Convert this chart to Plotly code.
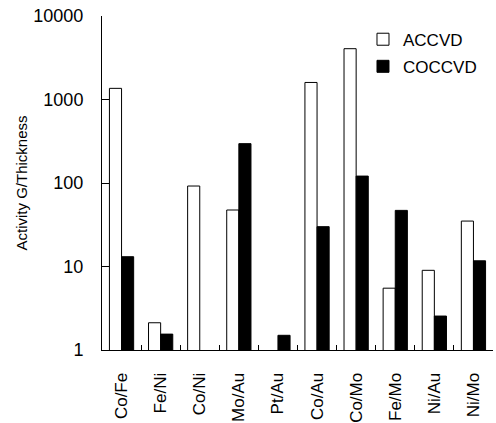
import plotly.graph_objects as go

categories = ["Co/Fe", "Fe/Ni", "Co/Ni", "Mo/Au", "Pt/Au", "Co/Au", "Co/Mo", "Fe/Mo", "Ni/Au", "Ni/Mo"]
accvd = [1360, 2.12, 92, 47.5, None, 1600, 4060, 5.5, 9.0, 35]
coccvd = [13.1, 1.55, None, 296, 1.5, 30, 121, 47, 2.55, 11.7]
ytick_vals = [1, 10, 100, 1000, 10000]
ytick_text = ["1", "10", "100", "1000", "10000"]

FONT = "Liberation Sans, Arial, sans-serif"

fig = go.Figure()
fig.add_trace(go.Bar(x=categories, y=accvd, name="ACCVD",
                     marker=dict(color="white", line=dict(color="black", width=1)),
                     legendgroup="a"))
fig.add_trace(go.Bar(x=categories, y=coccvd, name="COCCVD",
                     marker=dict(color="black", line=dict(color="black", width=1)),
                     legendgroup="b"))

fig.update_layout(
    width=496, height=423,
    margin=dict(l=102, r=3, t=16, b=73),
    paper_bgcolor="white", plot_bgcolor="white",
    font=dict(family=FONT, size=17, color="black"),
    barmode="group", bargap=0.38, bargroupgap=0,
    showlegend=True,
    legend=dict(x=0.6675, y=0.983, xanchor="left", yanchor="top",
                bgcolor="rgba(0,0,0,0)", font=dict(size=17),
                traceorder="grouped", tracegroupgap=2,
                itemwidth=30),
)
fig.update_xaxes(
    type="category", showline=True, linecolor="black", linewidth=1,
    ticks="inside", ticklen=5, tickson="boundaries", tickcolor="black",
    tickangle=-90, tickfont=dict(size=17), showgrid=False,
    ticklabelstandoff=15, automargin=False, ticklabeloverflow="allow",
)
fig.update_yaxes(
    type="log", range=[0, 4], showline=True, linecolor="black", linewidth=1,
    ticks="inside", ticklen=7, tickcolor="black",
    tickvals=ytick_vals, ticktext=ytick_text, tickfont=dict(size=18),
    showgrid=False, ticklabelstandoff=14, automargin=False,
    ticklabeloverflow="allow",
    title=dict(text="Activity G/Thickness", font=dict(size=15), standoff=2),
)

fig.write_html("out.html",
               config={"displayModeBar": False},
               post_script="document.body.style.margin='0px';document.body.style.overflow='hidden';")
